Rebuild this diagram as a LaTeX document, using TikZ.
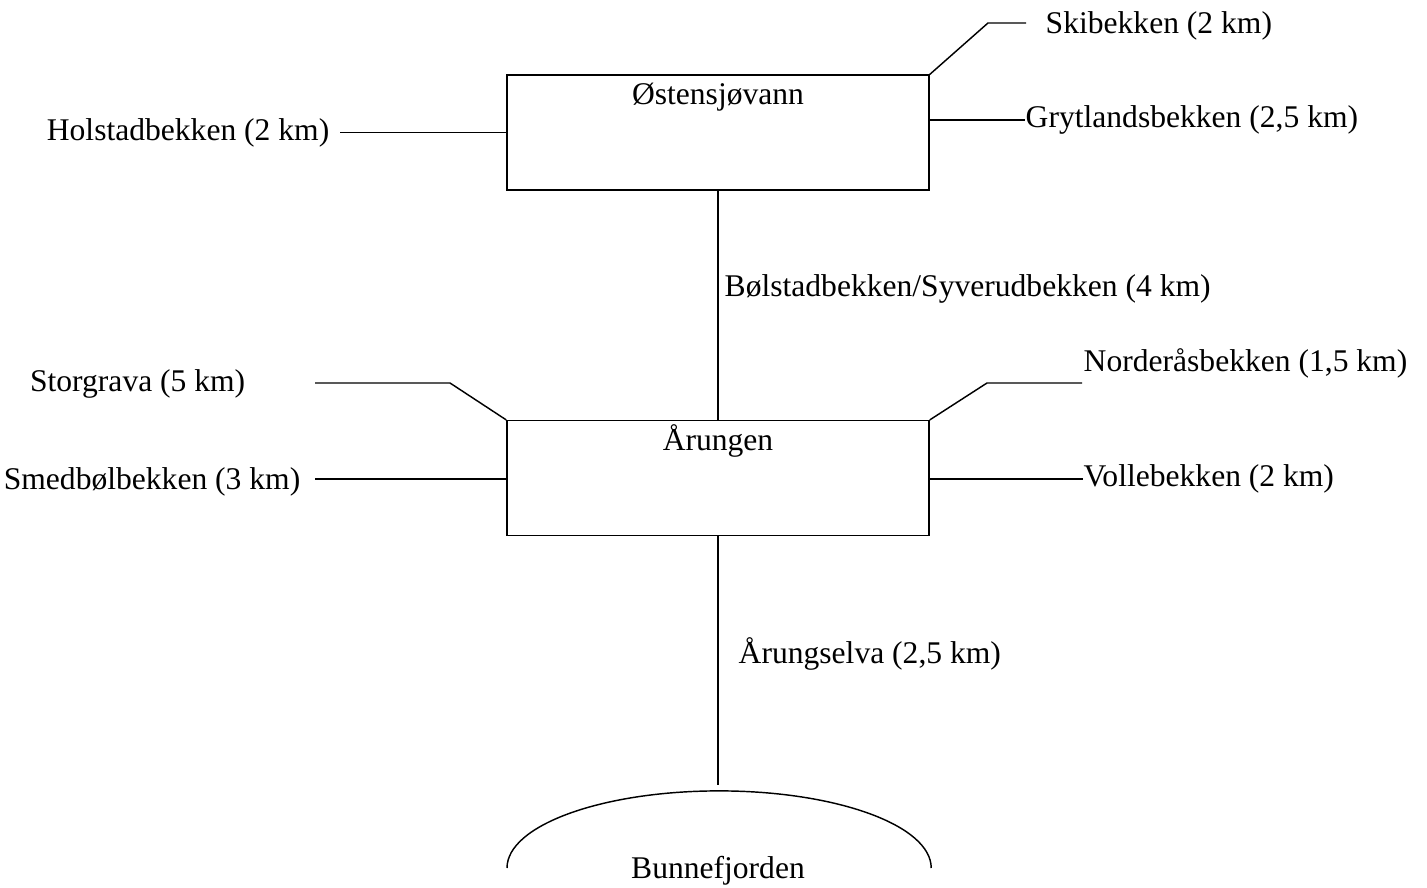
\documentclass[tikz,border=0pt]{standalone}
\usepackage{fontspec}
\setmainfont{Liberation Serif}
\begin{document}
\begin{tikzpicture}[x=0.38pt,y=-0.38pt,line width=0.55pt,
  every node/.style={font=\fontsize{12pt}{14pt}\selectfont},
  lake/.style={draw,minimum width=160.4pt,minimum height=43.6pt,inner sep=0pt},
  brook/.style={inner sep=0pt}]

\useasboundingbox (0,0) rectangle (1427,888);

% The lakes
\node[lake] (oste) at (718,132.5) {};
\node[lake] (arun) at (718,478) {};
\node[anchor=base] (osteT) at (718,105) {Østensjøvann};
\node[anchor=base] (arunT) at (718,451) {Årungen};

% The brooks round Østensjøvann
\node[brook,anchor=east] (holstad) at (330,133) {Holstadbekken (2 km)};
\node[brook,anchor=west] (skib) at (1045,26) {Skibekken (2 km)};
\node[brook,anchor=west] (gryt) at (1025,120) {Grytlandsbekken (2,5 km)};

\coordinate (holstadEnd) at (340,132.5);
\coordinate (skibEnd) at (1026,23);
\draw (oste.west) -- (holstadEnd);
\draw (oste.north east) -- (988,23) -- (skibEnd);
\draw (oste.east |- gryt.west) -- (gryt.west);

% Between the lakes
\draw (oste.south) -- (arun.north);
\node[brook,anchor=west] (bolstad) at (724,289) {Bølstadbekken/Syverudbekken (4 km)};

% The brooks round Årungen
\node[brook,anchor=east] (storg) at (246,384) {Storgrava (5 km)};
\node[brook,anchor=east] (smedb) at (301,482) {Smedbølbekken (3 km)};
\node[brook,anchor=west] (norder) at (1083,363) {Norderåsbekken (1,5 km)};
\node[brook,anchor=west] (volle) at (1083,479) {Vollebekken (2 km)};

\coordinate (storgEnd) at (315,383);
\coordinate (smedbEnd) at (315,479);
\coordinate (norderEnd) at (1082,383);
\draw (arun.north west) -- (450,383) -- (storgEnd);
\draw (arun.west |- smedbEnd) -- (smedbEnd);
\draw (arun.north east) -- (987,383) -- (norderEnd);
\draw (arun.east |- volle.west) -- (volle.west);

% Out to the fjord
\coordinate (fjordTop) at (718,785);
\coordinate (fjordLeft) at (507,868);
\draw (arun.south) -- (fjordTop);
\node[brook,anchor=west] (selva) at (738,654) {Årungselva (2,5 km)};
\draw (fjordLeft) arc[start angle=180,end angle=0,x radius=80.6pt,y radius=29.3pt];
\node[anchor=base] (fjord) at (718,878) {Bunnefjorden};

\end{tikzpicture}
\end{document}
